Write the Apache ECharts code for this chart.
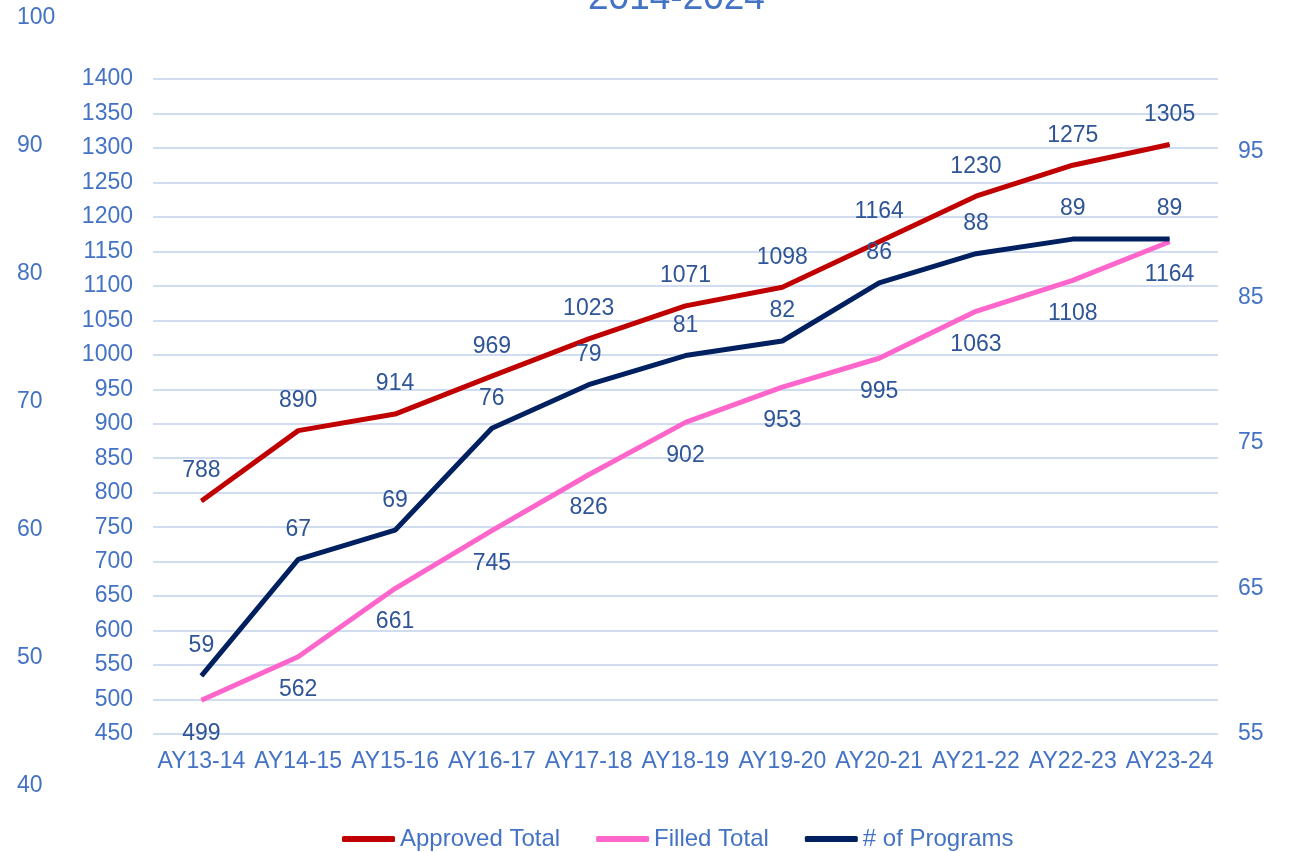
<!DOCTYPE html>
<html>
<head>
<meta charset="utf-8">
<script src="https://cdn.jsdelivr.net/npm/echarts@6/dist/echarts.min.js"></script>
<style>
  html, body { margin: 0; padding: 0; background: #fff; }
  #chart { width: 1293px; height: 852px; }
</style>
</head>
<body>
<div id="chart"></div>
<script>
var categories = ['AY13-14', 'AY14-15', 'AY15-16', 'AY16-17', 'AY17-18', 'AY18-19', 'AY19-20', 'AY20-21', 'AY21-22', 'AY22-23', 'AY23-24'];
var approvedTotal = [788, 890, 914, 969, 1023, 1071, 1098, 1164, 1230, 1275, 1305];
var filledTotal = [499, 562, 661, 745, 826, 902, 953, 995, 1063, 1108, 1164];
var programs = [59, 67, 69, 76, 79, 81, 82, 86, 88, 89, 89];

var axisBlue = '#4472C4';
var labelBlue = '#2F5597';
var font = 'Liberation Sans, Arial, sans-serif';

var myChart = echarts.init(document.getElementById('chart'));

function plain(v) { return String(v); }

function lineSeries(name, data, color, yIdx, pos, dist) {
    return {
        name: name,
        type: 'line',
        data: data,
        yAxisIndex: yIdx,
        symbol: 'circle',
        symbolSize: 1,
        lineStyle: { width: 5, color: color },
        itemStyle: { color: color },
        label: {
            show: true,
            position: pos,
            distance: dist,
            color: labelBlue,
            fontSize: 23,
            fontFamily: font
        }
    };
}

var option = {
    title: {
        text: '2014-2024',
        left: 583,
        top: -25,
        textStyle: { color: axisBlue, fontSize: 37, fontWeight: 'normal', fontFamily: font }
    },
    legend: {
        bottom: -4,
        left: 337,
        icon: 'roundRect',
        itemWidth: 53,
        itemHeight: 6,
        itemGap: 36,
        textStyle: { color: axisBlue, fontSize: 24, fontFamily: font },
        data: ['Approved Total', 'Filled Total', '# of Programs']
    },
    grid: [
        { left: 153, right: 75, top: 79, bottom: 118 },
        { left: 60, right: 75, top: 18, bottom: 66 }
    ],
    xAxis: [
        {
            type: 'category',
            gridIndex: 0,
            data: categories,
            axisLine: { show: false },
            axisTick: { show: false },
            axisLabel: { color: axisBlue, fontSize: 23, fontFamily: font, margin: 16, interval: 0 }
        },
        { type: 'category', gridIndex: 1, data: categories, show: false }
    ],
    yAxis: [
        {
            type: 'value',
            gridIndex: 0,
            min: 450,
            max: 1400,
            interval: 50,
            axisLine: { show: false },
            axisTick: { show: false },
            axisLabel: { color: axisBlue, fontSize: 23, fontFamily: font, margin: 20, formatter: plain },
            splitLine: { lineStyle: { color: '#D0DDF0', width: 2 } }
        },
        {
            type: 'value',
            gridIndex: 0,
            position: 'right',
            min: 55,
            max: 100,
            interval: 10,
            axisLine: { show: false },
            axisTick: { show: false },
            splitLine: { show: false },
            axisLabel: { color: axisBlue, fontSize: 23, fontFamily: font, margin: 20, showMaxLabel: false, formatter: plain }
        },
        {
            type: 'value',
            gridIndex: 1,
            min: 40,
            max: 100,
            interval: 10,
            axisLine: { show: false },
            axisTick: { show: false },
            splitLine: { show: false },
            axisLabel: { color: axisBlue, fontSize: 23, fontFamily: font, margin: 43, align: 'left', formatter: plain }
        }
    ],
    series: [
        lineSeries('Approved Total', approvedTotal, '#C00000', 0, 'top', 18),
        lineSeries('Filled Total', filledTotal, '#FF66CC', 0, 'bottom', 21),
        lineSeries('# of Programs', programs, '#002060', 1, 'top', 18)
    ]
};

myChart.setOption(option);
</script>
</body>
</html>
